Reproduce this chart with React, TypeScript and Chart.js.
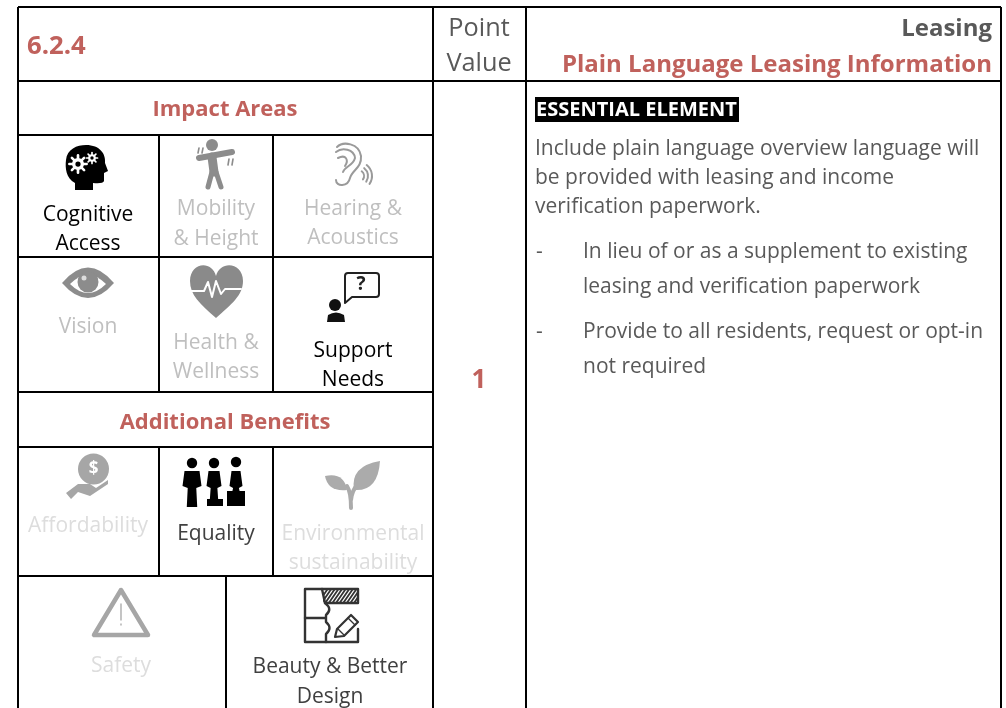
import React, { useEffect, useRef } from "react";
import { Chart, registerables } from "chart.js";

Chart.register(...registerables);

// Table rules: [x1, y1, x2, y2]
const tableRules = [
  [18, 7, 1001, 7], [18, 81, 1001, 81], [18, 135, 433, 135], [18, 257, 433, 257], [18, 392, 433, 392],
  [18, 447, 433, 447], [18, 576, 433, 576], [18, 7, 18, 708], [433, 7, 433, 708], [526, 7, 526, 708],
  [1001, 7, 1001, 708], [159, 135, 159, 392], [273, 135, 273, 392], [159, 447, 159, 576], [273, 447, 273, 576],
  [226, 576, 226, 708],
];

const RED = "#C0615C";
const GREY = "#595959";
const DARK = "#404040";
const FAINT = "#BFBFBF";
const FAINTER = "#DDDDDD";
const F = '"Open Sans"';
const S = 21;

// [text, x, y, size, weight, colour, align]
const labels: [string, number, number, number, number, string, CanvasTextAlign][] = [
  ["6.2.4", 27, 47, 25.7, 700, RED, "left"],
  ["Point", 479, 29, 25.3, 400, GREY, "center"],
  ["Value", 479, 64, 25.3, 400, GREY, "center"],
  ["Leasing", 992, 29, 24, 700, GREY, "right"],
  ["Plain Language Leasing Information", 992, 65, 24, 700, RED, "right"],
  ["Impact Areas", 225, 110, 22, 700, RED, "center"],
  ["Cognitive", 88, 215, S, 400, "#000000", "center"],
  ["Access", 88, 244, S, 400, "#000000", "center"],
  ["Mobility", 216, 209, S, 400, FAINT, "center"],
  ["& Height", 216, 239, S, 400, FAINT, "center"],
  ["Hearing &", 353, 209, S, 400, FAINT, "center"],
  ["Acoustics", 353, 238, S, 400, FAINT, "center"],
  ["Vision", 88, 327, S, 400, FAINT, "center"],
  ["Health &", 216, 343, S, 400, FAINT, "center"],
  ["Wellness", 216, 372, S, 400, FAINT, "center"],
  ["Support", 353, 351, S, 400, "#000000", "center"],
  ["Needs", 353, 380, S, 400, "#000000", "center"],
  ["Additional Benefits", 225, 423, 22, 700, RED, "center"],
  ["Affordability", 88, 526, S, 400, FAINTER, "center"],
  ["Equality", 216, 534, S, 400, DARK, "center"],
  ["Environmental", 353, 534, S, 400, FAINTER, "center"],
  ["sustainability", 353, 563, S, 400, FAINTER, "center"],
  ["Safety", 121, 666, S, 400, FAINTER, "center"],
  ["Beauty & Better", 330, 667, S, 400, DARK, "center"],
  ["Design", 330, 697, S, 400, DARK, "center"],
  ["1", 479, 381, 26, 700, RED, "center"],
  ["ESSENTIAL ELEMENT", 536, 110, 20, 700, "#FFFFFF", "left"],
  ["Include plain language overview language will", 535, 149, S, 400, GREY, "left"],
  ["be provided with leasing and income", 535, 178, S, 400, GREY, "left"],
  ["verification paperwork.", 535, 207, S, 400, GREY, "left"],
  ["-", 536, 252, S, 400, GREY, "left"],
  ["In lieu of or as a supplement to existing", 583, 252, S, 400, GREY, "left"],
  ["leasing and verification paperwork", 583, 287, S, 400, GREY, "left"],
  ["-", 536, 332, S, 400, GREY, "left"],
  ["Provide to all residents, request or opt-in", 583, 332, S, 400, GREY, "left"],
  ["not required", 583, 367, S, 400, GREY, "left"],
];

function poly(c: CanvasRenderingContext2D, pts: number[][], fill = true) {
  c.beginPath();
  pts.forEach((p, i) => (i ? c.lineTo(p[0], p[1]) : c.moveTo(p[0], p[1])));
  if (fill) { c.closePath(); c.fill(); } else c.stroke();
}
function disc(c: CanvasRenderingContext2D, x: number, y: number, r: number) {
  c.beginPath(); c.arc(x, y, r, 0, Math.PI * 2); c.fill();
}
function gear(c: CanvasRenderingContext2D, x: number, y: number, r: number, bg: string) {
  c.fillStyle = "#fff";
  disc(c, x, y, r * 0.8);
  c.strokeStyle = "#fff"; c.lineWidth = r * 0.35;
  for (let i = 0; i < 4; i++) {
    const a = (i * Math.PI) / 4;
    c.beginPath();
    c.moveTo(x - Math.cos(a) * r * 1.15, y - Math.sin(a) * r * 1.15);
    c.lineTo(x + Math.cos(a) * r * 1.15, y + Math.sin(a) * r * 1.15);
    c.stroke();
  }
  c.fillStyle = bg;
  disc(c, x, y, r * 0.35);
}

function drawIcons(c: CanvasRenderingContext2D) {
  c.save();
  c.lineCap = "round"; c.lineJoin = "round";
  c.filter = "blur(0.6px)";

  // Cognitive head
  c.fillStyle = "#000";
  c.beginPath();
  c.moveTo(75, 190); c.lineTo(75, 183);
  c.bezierCurveTo(66, 178, 65, 168, 66, 160);
  c.bezierCurveTo(67, 149, 77, 145, 86, 145);
  c.bezierCurveTo(100, 145, 106, 154, 105, 163);
  c.lineTo(108, 171); c.lineTo(104, 173); c.lineTo(104, 181);
  c.quadraticCurveTo(103, 184, 93, 183); c.lineTo(93, 190); c.closePath(); c.fill();
  gear(c, 78, 164, 7.5, "#000");
  gear(c, 92, 158, 4.8, "#000");

  // Mobility figure
  c.strokeStyle = "#8C8C8C"; c.fillStyle = "#8C8C8C";
  disc(c, 212, 145, 6);
  c.lineWidth = 6; c.beginPath(); c.moveTo(199, 158); c.lineTo(232, 152); c.stroke();
  c.lineWidth = 9; c.beginPath(); c.moveTo(212, 157); c.lineTo(214, 172); c.stroke();
  c.lineWidth = 5;
  c.beginPath(); c.moveTo(212, 172); c.lineTo(208, 187); c.moveTo(216, 172); c.lineTo(221, 187); c.stroke();
  c.lineWidth = 1.6;
  c.beginPath(); c.moveTo(199, 148); c.lineTo(198, 153); c.moveTo(203, 148); c.lineTo(202, 153);
  c.moveTo(229, 159); c.lineTo(228, 165); c.moveTo(233, 159); c.lineTo(232, 165); c.stroke();

  // Ear
  c.strokeStyle = "#9A9A9A"; c.lineWidth = 2;
  c.beginPath();
  c.moveTo(337, 147);
  c.bezierCurveTo(343, 141, 359, 143, 361, 156);
  c.bezierCurveTo(362, 168, 352, 170, 350, 178);
  c.bezierCurveTo(348, 187, 336, 187, 336, 180);
  c.stroke();
  c.beginPath();
  c.moveTo(336, 152);
  c.bezierCurveTo(342, 147, 354, 149, 355, 158);
  c.bezierCurveTo(353, 166, 345, 166, 343, 172);
  c.moveTo(338, 158); c.bezierCurveTo(346, 154, 349, 160, 345, 166);
  c.stroke();
  [6, 10, 14].forEach((r) => { c.beginPath(); c.arc(358, 176, r, -0.9, 0.6); c.stroke(); });

  // Eye
  c.fillStyle = "#8C8C8C";
  c.beginPath();
  c.moveTo(62, 283); c.quadraticCurveTo(88, 252, 114, 283); c.quadraticCurveTo(88, 313, 62, 283);
  c.closePath(); c.fill();
  c.fillStyle = "#fff";
  c.beginPath();
  c.moveTo(70, 284); c.quadraticCurveTo(88, 266, 106, 284); c.quadraticCurveTo(88, 302, 70, 284);
  c.closePath(); c.fill();
  c.fillStyle = "#8C8C8C"; disc(c, 88, 282, 10.5);
  c.fillStyle = "#ddd"; disc(c, 84, 278, 2.5);

  // Heart
  c.fillStyle = "#8A8A8A";
  c.beginPath();
  c.moveTo(216, 318);
  c.bezierCurveTo(200, 304, 190, 295, 190, 281);
  c.bezierCurveTo(190, 262, 212, 260, 216, 276);
  c.bezierCurveTo(220, 260, 243, 262, 243, 281);
  c.bezierCurveTo(243, 295, 232, 304, 216, 318);
  c.closePath(); c.fill();
  c.strokeStyle = "#fff"; c.lineWidth = 2;
  poly(c, [[191, 291], [204, 291], [208, 282], [212, 297], [216, 281], [221, 294], [225, 289], [241, 289]], false);

  // Support bubble
  c.strokeStyle = "#222"; c.fillStyle = "#222"; c.lineWidth = 2;
  c.beginPath();
  c.moveTo(348, 273); c.lineTo(376, 273); c.quadraticCurveTo(379, 273, 379, 276);
  c.lineTo(379, 294); c.quadraticCurveTo(379, 297, 376, 297);
  c.lineTo(352, 297); c.lineTo(345, 303); c.lineTo(345, 276); c.quadraticCurveTo(345, 273, 348, 273);
  c.stroke();
  c.fillStyle = "#111";
  disc(c, 335, 305, 6);
  c.beginPath(); c.moveTo(327, 322); c.lineTo(328, 315); c.quadraticCurveTo(336, 310, 344, 315); c.lineTo(345, 322);
  c.closePath(); c.fill();

  // Coin and hand
  c.fillStyle = "#A6A6A6"; disc(c, 93.5, 469, 15.5);
  poly(c, [[66, 493], [78, 484], [90, 484], [96, 488], [108, 480], [108, 484], [90, 496], [78, 492], [71, 499]]);

  // Equality
  c.fillStyle = "#000";
  [[192, 463, 9.5, 507], [214, 463, 7.5, 499], [236, 462, 6.5, 491]].forEach(([x, hy, w, foot]) => {
    disc(c, x, hy, 5.2);
    c.beginPath();
    c.moveTo(x - w, 486); c.lineTo(x - w + 2, 471); c.lineTo(x + w - 2, 471); c.lineTo(x + w, 486);
    c.lineTo(x + w * 0.45, 488); c.lineTo(x + w * 0.55, foot); c.lineTo(x - w * 0.55, foot); c.lineTo(x - w * 0.45, 488);
    c.closePath(); c.fill();
  });
  c.fillRect(207, 499, 16, 7);
  c.fillRect(227, 491, 18, 15);

  // Plant
  c.fillStyle = "#ABABAB"; c.strokeStyle = "#ABABAB"; c.lineWidth = 4;
  c.beginPath(); c.moveTo(351, 508); c.quadraticCurveTo(351, 492, 347, 486); c.moveTo(351, 500); c.quadraticCurveTo(352, 490, 358, 484); c.stroke();
  c.beginPath(); c.moveTo(347, 490); c.quadraticCurveTo(328, 492, 325, 476); c.quadraticCurveTo(344, 472, 347, 490); c.closePath(); c.fill();
  c.beginPath(); c.moveTo(354, 490); c.quadraticCurveTo(350, 466, 380, 461); c.quadraticCurveTo(378, 492, 354, 490); c.closePath(); c.fill();

  // Safety triangle
  c.strokeStyle = "#A6A6A6"; c.lineWidth = 4.5;
  c.beginPath(); c.moveTo(121, 590); c.lineTo(94, 635); c.lineTo(148, 635); c.closePath(); c.stroke();
  c.lineWidth = 1.3; c.beginPath(); c.moveTo(121, 604); c.lineTo(121, 620); c.moveTo(121, 624); c.lineTo(121, 625); c.stroke();

  // Beauty plan
  c.strokeStyle = "#333"; c.lineWidth = 2.4;
  c.beginPath();
  c.moveTo(358, 629); c.lineTo(358, 642); c.lineTo(305, 642); c.lineTo(305, 589); c.lineTo(358, 589); c.lineTo(358, 603); c.lineTo(325, 603); c.stroke();
  c.beginPath(); c.moveTo(322, 589); c.lineTo(325, 603); c.quadraticCurveTo(333, 609, 326, 615); c.lineTo(326, 622); c.quadraticCurveTo(333, 628, 326, 634); c.lineTo(326, 642); c.moveTo(305, 618); c.lineTo(326, 618); c.stroke();
  c.save();
  c.beginPath(); c.rect(323, 590, 35, 13); c.clip();
  c.lineWidth = 1.8;
  for (let x = 318; x < 358; x += 3.6) { c.beginPath(); c.moveTo(x, 603); c.lineTo(x + 9, 590); c.stroke(); }
  c.restore();
  c.lineWidth = 2.2;
  poly(c, [[335, 637], [337, 629], [351, 615], [358, 622], [344, 636], [335, 637]], false);
  c.lineWidth = 1.4;
  poly(c, [[338, 629], [344, 635]], false);
  poly(c, [[348, 618], [355, 625]], false);
  c.restore();
}

const tablePlugin = {
  id: "tableText",
  beforeDraw(chart: Chart) {
    const c = chart.ctx;
    c.save();
    c.fillStyle = "#fff";
    c.fillRect(0, 0, chart.width, chart.height);
    c.fillStyle = "#000";
    c.fillRect(535, 97, 204, 25);
    c.restore();
  },
  afterDatasetsDraw(chart: Chart) {
    const c = chart.ctx;
    drawIcons(c);
    c.save();
    c.textBaseline = "middle";
    labels.forEach(([t, x, y, s, w, col, al]) => {
      c.font = `${w} ${s}px ${F}`;
      c.fillStyle = col;
      c.textAlign = al;
      c.fillText(t, x, y);
    });
    c.font = `700 19px ${F}`; c.fillStyle = "#222"; c.textAlign = "center";
    c.fillText("?", 361, 285);
    c.font = `700 17px ${F}`; c.fillStyle = "#fff";
    c.fillText("$", 93.5, 469);
    c.restore();
  },
};

export default function App() {
  const ref = useRef<HTMLCanvasElement>(null);
  useEffect(() => {
    const chart = new Chart(ref.current!, {
      type: "scatter",
      data: {
        datasets: tableRules.map(([x1, y1, x2, y2]) => ({
          data: [{ x: x1, y: y1 }, { x: x2, y: y2 }],
          showLine: true,
          borderColor: "#000",
          borderWidth: 2,
          pointRadius: 0,
        })),
      },
      options: {
        animation: false,
        responsive: false,
        layout: { padding: 0 },
        plugins: { legend: { display: false }, tooltip: { enabled: false } },
        scales: {
          x: { type: "linear", min: 0, max: 1006, display: false },
          y: { type: "linear", min: 0, max: 708, reverse: true, display: false },
        },
      },
      plugins: [tablePlugin],
    });
    return () => chart.destroy();
  }, []);
  return (
    <div style={{ position: "fixed", left: 0, top: 0, width: 1006, height: 708, background: "#fff" }}>
      <canvas ref={ref} width={1006} height={708} style={{ display: "block" }} />
    </div>
  );
}
